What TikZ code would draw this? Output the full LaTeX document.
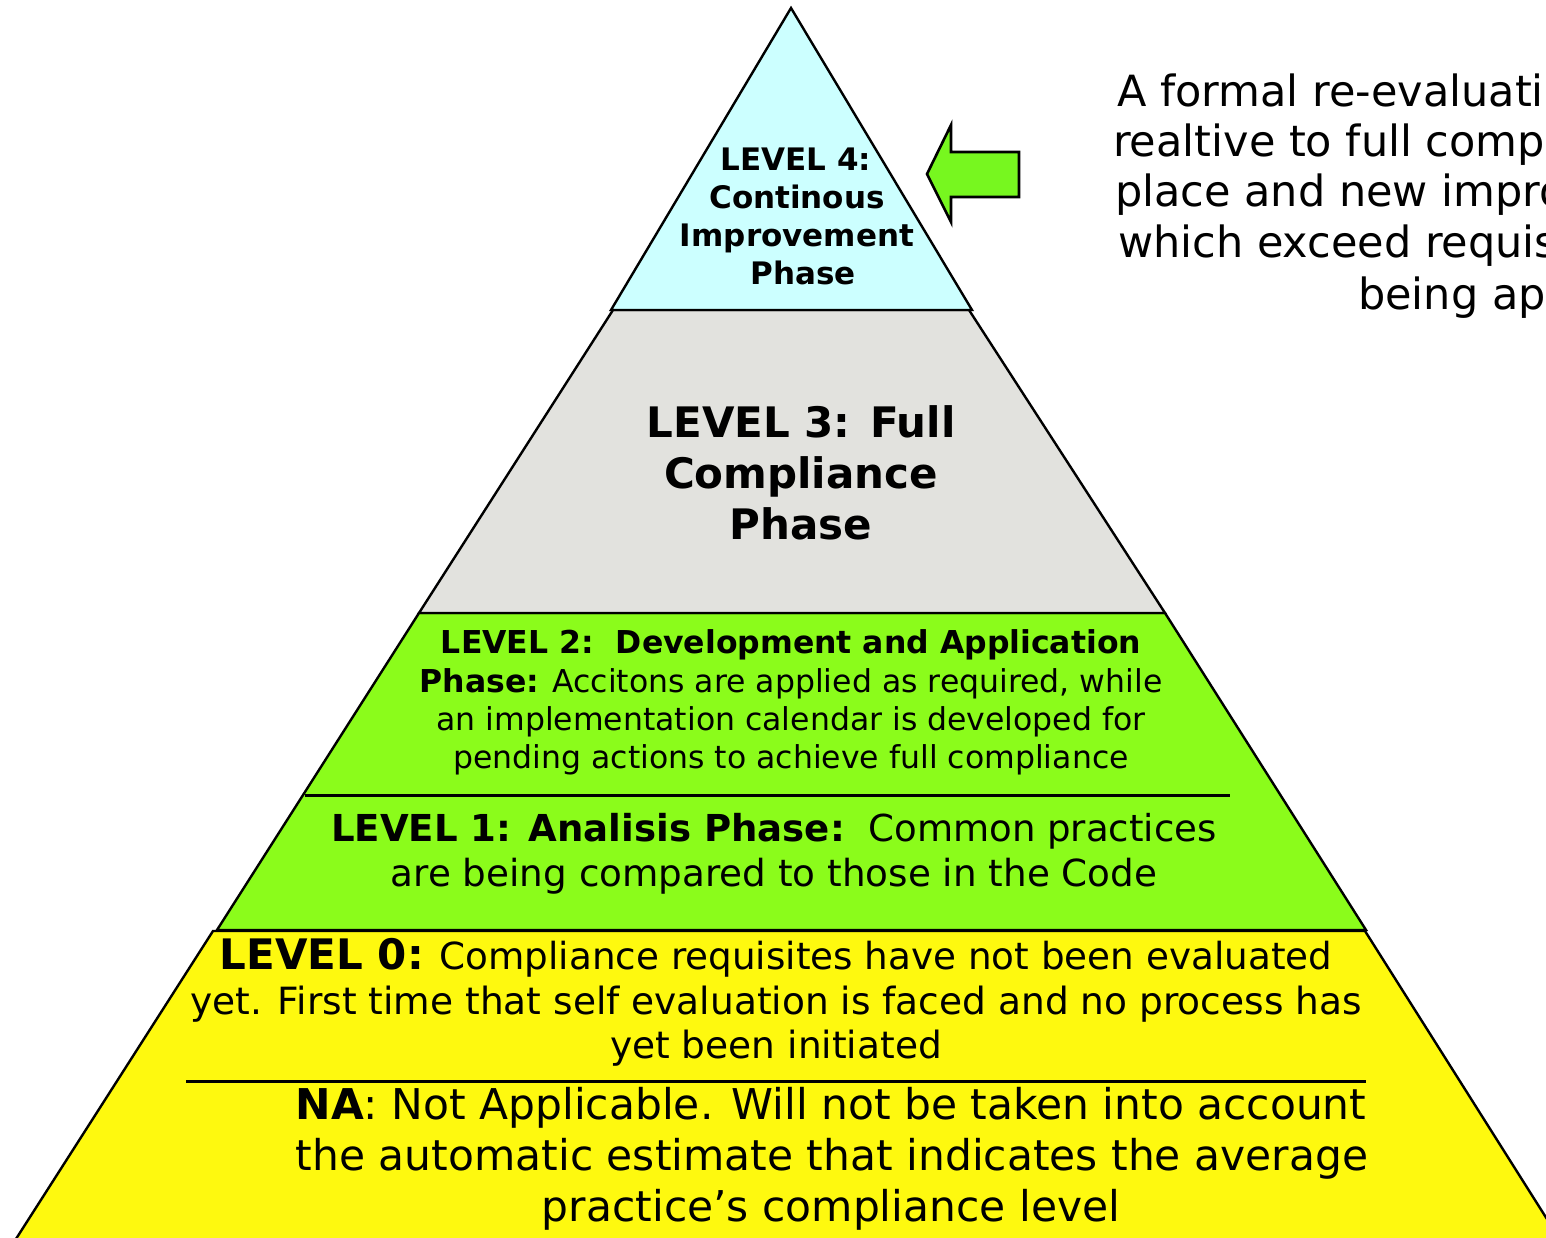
\documentclass[tikz,border=0pt]{standalone}
\usepackage{fontspec}
\setmainfont{DejaVu Sans}
\definecolor{lvfour}{HTML}{CCFFFF}
\definecolor{lvthree}{HTML}{E2E2DE}
\definecolor{lvgreen}{HTML}{8BFC1B}
\definecolor{lvyellow}{HTML}{FEF90F}
\definecolor{arrowgreen}{HTML}{77F71F}
\newcommand{\fsz}[1]{\fontsize{#1}{#1}\selectfont}
\begin{document}
\begin{tikzpicture}[x=1pt,y=-1pt,
  tier/.style={draw=black, line width=2.4pt, line join=miter},
  divider/.style={draw=black, line width=3pt},
  txt/.style={inner sep=0pt, anchor=base},
  txtw/.style={inner sep=0pt, anchor=base west}]
\useasboundingbox (0,0) rectangle (1546,1238);
\begin{scope}
\clip (0,0) rectangle (1546,1238);
% tiers
\filldraw[tier, fill=lvyellow] (213,931) -- (1365,931) -- (1600,1303) -- (-25,1303) -- cycle;
\filldraw[tier, fill=lvgreen] (419,613) -- (1165,613) -- (1366,930) -- (217,930) -- cycle;
\filldraw[tier, fill=lvthree] (613,310) -- (969,310) -- (1165,613) -- (419,613) -- cycle;
\filldraw[tier, fill=lvfour] (791,8) -- (972,310) -- (611,310) -- cycle;
% dividers
\coordinate (d1a) at (305,795);
\coordinate (d1b) at (1230,795);
\draw[divider] (d1a) -- (d1b);
\coordinate (d0a) at (186,1081);
\coordinate (d0b) at (1366,1081);
\draw[divider] (d0a) -- (d0b);
% arrow
\filldraw[draw=black, line width=2.6pt, line join=miter, fill=arrowgreen]
  (927,174) -- (951,125) -- (951,152) -- (1019,152) -- (1019,197) -- (951,197) -- (951,222) -- cycle;
% level 4
\node[txt, font=\bfseries\fsz{31}] (l4a) at (796,171) {LEVEL 4:};
\node[txt, font=\bfseries\fsz{31}] (l4b) at (797,209) {Continous};
\node[txt, font=\bfseries\fsz{31}] (l4c) at (797,247) {Improvement};
\node[txt, font=\bfseries\fsz{31}] (l4d) at (803,285) {Phase};
% level 3
\node[txt, font=\bfseries\fsz{42}] (l3a) at (801,437) {LEVEL 3: Full};
\node[txt, font=\bfseries\fsz{42}] (l3b) at (801,488) {Compliance};
\node[txt, font=\bfseries\fsz{42}] (l3c) at (801,539) {Phase};
% level 2
\node[txt, font=\fsz{31.5}] (l2a) at (791,653) {\bfseries LEVEL 2:\ \ Development and Application};
\node[txt, font=\fsz{31.5}] (l2b) at (791,692) {\textbf{Phase:} Accitons are applied as required, while};
\node[txt, font=\fsz{31.5}] (l2c) at (791,730) {an implementation calendar is developed for};
\node[txt, font=\fsz{31.5}] (l2d) at (791,768) {pending actions to achieve full compliance};
% level 1
\node[txt, font=\fsz{37.1}] (l1a) at (774,841) {\textbf{LEVEL 1: Analisis Phase:}\ \ Common practices};
\node[txt, font=\fsz{37.3}] (l1b) at (774,886) {are being compared to those in the Code};
% level 0
\node[txt, font=\fsz{37.3}] (l0a) at (776,969) {{\bfseries\fsz{42}LEVEL 0:} Compliance requisites have not been evaluated};
\node[txt, font=\fsz{37.5}] (l0b) at (776,1014) {yet. First time that self evaluation is faced and no process has};
\node[txt, font=\fsz{37.5}] (l0c) at (776,1058) {yet been initiated};
% NA
\node[txt, font=\fsz{42.4}] (naa) at (831,1119) {\textbf{NA}: Not Applicable. Will not be taken into account};
\node[txt, font=\fsz{42.4}] (nab) at (832,1170) {the automatic estimate that indicates the average};
\node[txt, font=\fsz{42.4}] (nac) at (831,1221) {practice’s compliance level};
% side note (cut by the picture's right edge, as in the reference)
\node[txtw, font=\fsz{43}] (r1) at (1117,107) {A formal re-evaluati};
\node[txtw, font=\fsz{43}] (r2) at (1113,157) {realtive to full compl};
\node[txtw, font=\fsz{43}] (r3) at (1115,207) {place and new impro};
\node[txtw, font=\fsz{43}] (r4) at (1118,258) {which exceed requis};
\node[txtw, font=\fsz{43}] (r5) at (1358,309) {being ap};
\end{scope}
\end{tikzpicture}
\end{document}
